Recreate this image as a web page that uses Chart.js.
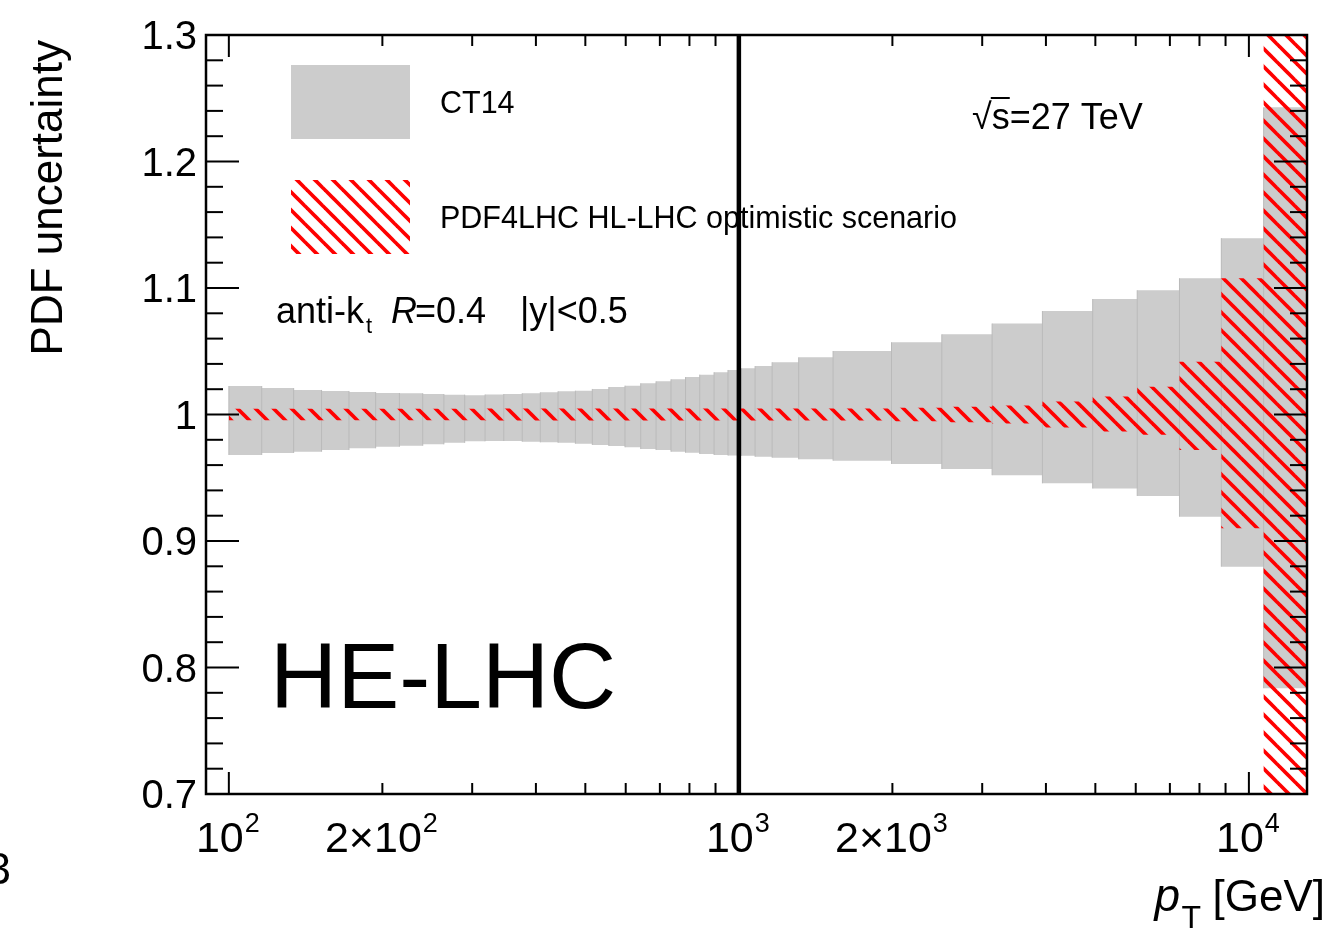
<!DOCTYPE html>
<html>
<head>
<meta charset="utf-8">
<title>PDF uncertainty - HE-LHC</title>
<script src="https://cdn.jsdelivr.net/npm/chart.js@4.4.1/dist/chart.umd.min.js"></script>
<style>
body{margin:0;background:#fff;}
</style>
</head>
<body>
<canvas id="chart" width="1335" height="933"></canvas>
<script>

// bin edges in pT [GeV]
let ptEdges=[100,116,134,152,172,194,216,240,264,290,318,346,376,408,442,478,516,556,598,642,688,736,786,838,894,952,1012,1076,1162,1310,1530,1992,2500,3137,3937,4940,6040,7310,8830,10690,13000];

// CT14 band (grey)
let ct14Up=[1.0225,1.0209,1.0194,1.0186,1.0178,1.0170,1.0168,1.0162,1.0157,1.0153,1.0158,1.0162,1.0168,1.0175,1.0183,1.0188,1.0202,1.0217,1.0228,1.0247,1.0262,1.0278,1.0296,1.0315,1.0334,1.0352,1.0365,1.0383,1.0413,1.0452,1.0502,1.0571,1.0634,1.0719,1.0818,1.0913,1.0982,1.1077,1.1394,1.2428];
let ct14Down=[0.9680,0.9696,0.9706,0.9719,0.9733,0.9745,0.9753,0.9764,0.9776,0.9788,0.9791,0.9791,0.9785,0.9780,0.9777,0.9769,0.9759,0.9751,0.9741,0.9727,0.9719,0.9706,0.9698,0.9688,0.9680,0.9676,0.9674,0.9666,0.9659,0.9646,0.9635,0.9609,0.9569,0.9520,0.9456,0.9415,0.9356,0.9192,0.8797,0.7836];

// PDF4LHC HL-LHC optimistic scenario (red hatch)
let hlUp=[1.0046,1.0046,1.0046,1.0046,1.0046,1.0046,1.0046,1.0046,1.0046,1.0046,1.0047,1.0047,1.0047,1.0047,1.0047,1.0047,1.0047,1.0047,1.0047,1.0047,1.0047,1.0047,1.0047,1.0047,1.0047,1.0047,1.0047,1.0047,1.0048,1.0048,1.0048,1.0053,1.0062,1.0072,1.0103,1.0142,1.022,1.0417,1.1077,1.45];
let hlDown=[0.9954,0.9954,0.9954,0.9954,0.9954,0.9954,0.9954,0.9954,0.9954,0.9954,0.9953,0.9953,0.9953,0.9953,0.9953,0.9953,0.9953,0.9953,0.9953,0.9953,0.9953,0.9953,0.9953,0.9953,0.9953,0.9953,0.9953,0.9953,0.9952,0.9952,0.9952,0.9947,0.9938,0.9928,0.9897,0.9866,0.984,0.972,0.910,0.55];

let refLine=1000;

let xTicks=[100,200,300,400,500,600,700,800,900,1000,2000,3000,4000,5000,6000,7000,8000,9000,10000];
let xMajor=[100,1000,10000];
let xLabelVals=[100,200,1000,2000,10000];
let xLabelText=[["10","2"],["2\u00d710","2"],["10","3"],["2\u00d710","3"],["10","4"]];
let yLabelVals=[0.7,0.8,0.9,1,1.1,1.2,1.3];
let yLabelText=["0.7","0.8","0.9","1","1.1","1.2","1.3"];

let FONT="'Liberation Sans', Arial, Helvetica, sans-serif";


function steps(vals){
let pts=vals.map((v,i)=>({x:ptEdges[i],y:v}));
pts.push({x:ptEdges[vals.length],y:vals[vals.length-1]});
return pts;
}

let edgePts=[];
for(let i=0;i<ptEdges.length;i++){
let a=Math.max(i-1,0),b=Math.min(i,ct14Up.length-1);
edgePts.push({x:ptEdges[i],y:Math.min(ct14Down[a],ct14Down[b])});
edgePts.push({x:ptEdges[i],y:Math.max(ct14Up[a],ct14Up[b])});
edgePts.push({x:ptEdges[i],y:null});
}


let canvas=document.getElementById("chart");
let mainCtx=canvas.getContext("2d");

function hatch(){
let t=document.createElement("canvas");
t.width=18;t.height=18;
let g=t.getContext("2d");
g.strokeStyle="#ff0000";
g.lineWidth=3.7;
for(let k=-2;k<=1;k++){
g.beginPath();
g.moveTo(-4,9-4+18*k);
g.lineTo(22,9+22+18*k);
g.stroke();
}
return mainCtx.createPattern(t,"repeat");
}
let hatchFill=hatch();


function seg(ctx,x1,y1,x2,y2){
ctx.beginPath();ctx.moveTo(x1,y1);ctx.lineTo(x2,y2);ctx.stroke();
}

let deco={
id:"deco",

beforeDatasetsDraw(chart){
let ctx=chart.ctx;
ctx.save();
ctx.fillStyle="#cccccc";
ctx.fillRect(291,65,119,74);
ctx.fillStyle=hatchFill;
ctx.fillRect(291,180,119,74);
ctx.fillStyle="#000";
ctx.font="30.5px "+FONT;
ctx.textAlign="left";
ctx.fillText("CT14",440,113);
ctx.fillText("PDF4LHC HL-LHC optimistic scenario",440,228);
ctx.restore();
},

afterDraw(chart){
let ctx=chart.ctx,a=chart.chartArea;
let xs=chart.scales.x,ys=chart.scales.y;
ctx.save();
ctx.strokeStyle="#000";

// ticks inside the frame
ctx.lineWidth=2;
xTicks.forEach(v=>{
let px=xs.getPixelForValue(v);
let len=xMajor.includes(v)?22:11;
seg(ctx,px,a.bottom,px,a.bottom-len);
seg(ctx,px,a.top,px,a.top+len);
});
for(let k=0;k<=30;k++){
let py=ys.getPixelForValue(0.7+k*0.02);
let len=(k%5==0)?33:17;
seg(ctx,a.left,py,a.left+len,py);
seg(ctx,a.right,py,a.right-len,py);
}

// frame
ctx.lineWidth=2.5;
ctx.strokeRect(a.left,a.top,a.right-a.left,a.bottom-a.top);

ctx.fillStyle="#000";

// y labels
ctx.font="40px "+FONT;
ctx.textAlign="right";
yLabelVals.forEach((v,i)=>{
ctx.fillText(yLabelText[i],197,ys.getPixelForValue(v)+14);
});

// x labels with exponent
ctx.textAlign="left";
xLabelVals.forEach((v,i)=>{
let b=xLabelText[i][0],s=xLabelText[i][1];
ctx.font="43px "+FONT;
let wb=ctx.measureText(b).width;
ctx.font="27px "+FONT;
let ws=ctx.measureText(s).width;
let x0=xs.getPixelForValue(v)-(wb+ws+1)/2-1;
ctx.font="43px "+FONT;
ctx.fillText(b,x0,852);
ctx.font="27px "+FONT;
ctx.fillText(s,x0+wb+1,832);
});

// axis titles
ctx.save();
ctx.translate(62,40);
ctx.rotate(-Math.PI/2);
ctx.font="44px "+FONT;
ctx.textAlign="right";
ctx.fillText("PDF uncertainty",0,0);
ctx.restore();

ctx.textAlign="right";
ctx.font="44px "+FONT;
ctx.fillText("[GeV]",1325,911);
ctx.font="32px "+FONT;
ctx.fillText("T",1201,928);
ctx.font="italic 46px "+FONT;
ctx.fillText("p",1180,911);

// cut-off character at the page edge
ctx.font="44px "+FONT;
ctx.fillText("3",11,884);

// annotations
ctx.textAlign="left";
ctx.font="36px "+FONT;
ctx.fillText("anti-k",276,323);
let w=ctx.measureText("anti-k").width;
ctx.font="22px "+FONT;
ctx.fillText("t",276+w+2,333);
ctx.font="italic 36px "+FONT;
ctx.fillText("R",391,323);
let wr=ctx.measureText("R").width;
ctx.font="36px "+FONT;
ctx.fillText("=0.4",391+wr-2,323);
ctx.fillText("|y|<0.5",520,323);

ctx.font="36px "+FONT;
ctx.fillText("\u221a",972,129);
let wq=ctx.measureText("\u221a").width;
ctx.fillText("s=27 TeV",972+wq,129);
let wsx=ctx.measureText("s").width;
ctx.lineWidth=2;
seg(ctx,972+wq-1,98,972+wq+wsx,98);

ctx.font="93px "+FONT;
ctx.fillText("HE-LHC",270,708);

ctx.restore();
}
};


new Chart(canvas,{

type:"line",

data:{
datasets:[
{
label:"ref",
data:[{x:refLine,y:0.7},{x:refLine,y:1.3}],
borderColor:"#000",
borderWidth:4.5,
fill:false
},
{
label:"HL-LHC up",
data:steps(hlUp),
stepped:"before",
borderColor:"rgba(0,0,0,0)",
borderWidth:1,
fill:false
},
{
label:"PDF4LHC HL-LHC optimistic scenario",
data:steps(hlDown),
stepped:"before",
borderColor:"rgba(0,0,0,0)",
borderWidth:1,
backgroundColor:hatchFill,
fill:"-1"
},
{
label:"bin edges",
data:edgePts,
borderColor:"#bababa",
borderWidth:1,
spanGaps:false,
fill:false
},
{
label:"CT14 up",
data:steps(ct14Up),
stepped:"before",
borderColor:"rgba(0,0,0,0)",
borderWidth:1,
fill:false
},
{
label:"CT14",
data:steps(ct14Down),
stepped:"before",
borderColor:"rgba(0,0,0,0)",
borderWidth:1,
backgroundColor:"#cccccc",
fill:"-1"
}
]
},

options:{
responsive:false,
animation:false,
layout:{padding:{left:206,top:35,right:28,bottom:139}},
elements:{point:{radius:0}},
scales:{
x:{type:"logarithmic",min:90.2,max:13000,display:false},
y:{type:"linear",min:0.7,max:1.3,display:false}
},
plugins:{
legend:{display:false},
tooltip:{enabled:false}
}
},

plugins:[deco]

});

</script>
</body>
</html>
